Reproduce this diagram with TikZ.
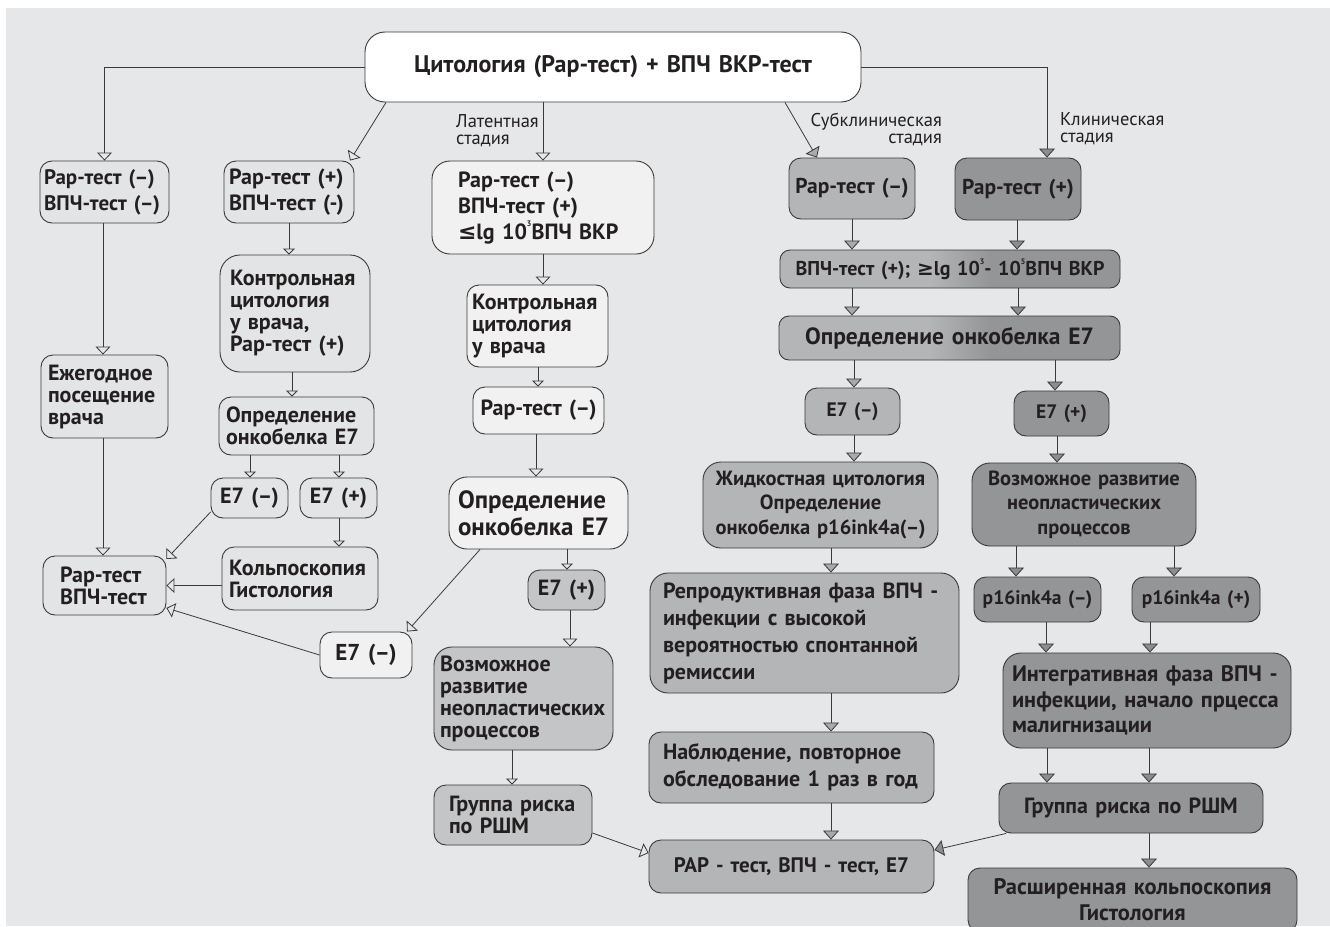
\documentclass[tikz,border=0pt]{standalone}
\usepackage{fontspec}
\setmainfont{PT Sans}
\newfontfamily\dvs{DejaVu Sans}
\usetikzlibrary{arrows.meta,calc}
\definecolor{bgc}{HTML}{E6E7E8}
\definecolor{lb}{HTML}{E3E4E5}
\definecolor{wb}{HTML}{F1F1F1}
\definecolor{mb}{HTML}{C4C5C7}
\definecolor{sb}{HTML}{B4B5B7}
\definecolor{db}{HTML}{949597}
\definecolor{ln}{HTML}{3A3A3A}
\definecolor{tx}{HTML}{231F20}
\definecolor{ahs}{HTML}{A9AAAC}
\definecolor{ahd}{HTML}{8C8D8F}
\pgfdeclarehorizontalshading{gbar}{100bp}{color(0bp)=(sb); color(47bp)=(sb); color(56bp)=(db); color(100bp)=(db)}
\newcommand\bxn[8]{%
 \pgfmathsetmacro\bxw{#4-#2}\pgfmathsetmacro\bxh{#5-#3}%
 \pgfmathsetmacro\bxcx{(#2+#4)/2}\pgfmathsetmacro\bxcy{(#3+#5)/2}%
 \pgfmathsetmacro\bxtw{#4-#2-2*#7}%
 \node[box,#6,minimum width=\bxw pt,minimum height=\bxh pt,text width=\bxtw pt,inner xsep=#7pt] (#1) at (\bxcx,\bxcy) {#8};}
\newcommand\lee{{\dvs\bfseries ≤}}
\newcommand\gee{{\dvs\bfseries ≥}}
\newcommand\sps[1]{\raisebox{0.55em}{\fontsize{8}{8}\selectfont #1}}
\newcommand\fs[2]{\bfseries\fontsize{#1}{#2}\selectfont}
\begin{document}
\begin{tikzpicture}[x=1pt,y=-1pt,
  box/.style={draw=ln,line width=0.9pt,rounded corners=12pt,inner ysep=0pt,align=center,text=tx},
  fl/.style={font=\fs{22}{22}},
  fl2/.style={font=\fs{22}{26}},
  lab/.style={inner sep=0pt,text=tx,font=\fontsize{18.5}{17}\selectfont},
  arr/.style={draw=ln,line width=0.8pt,-{Triangle[open,width=15pt,length=8pt]}},
  arrsm/.style={draw=ln,line width=0.8pt,-{Triangle[open,width=12pt,length=6pt]}},
  arrs/.style={draw=ln,line width=0.8pt,-{Triangle[width=16pt,length=9pt,fill=ahs]}},
  arrd/.style={draw=ln,line width=0.8pt,-{Triangle[width=16pt,length=9pt,fill=ahd]}}]
\useasboundingbox (0,0) rectangle (1330,926);
\clip (0,0) rectangle (1330,926);
\fill[white] (0,0) rectangle (1330,926);
\fill[bgc] (6,8) rectangle (1330,926);

% top
\bxn{top}{365}{32}{861}{102}{fill=white,rounded corners=20pt,font=\fs{24}{26}}{10}{Цитология (Рар-тест) + ВПЧ ВКР-тест}

% left column
\bxn{L1}{40}{161}{169}{223}{fill=lb,font=\fs{21}{26},align=left}{4}{Рар-тест (–)\\ВПЧ-тест (–)}
\bxn{L2}{224}{161}{354}{223}{fill=lb,fl2,align=left}{5}{Рар-тест (+)\\ВПЧ-тест (-)}
\bxn{L3}{220}{255}{370}{372}{fill=lb,fl,align=left,rounded corners=20pt}{10}{Контрольная\\цитология\\у врача,\\Рар-тест (+)}
\bxn{L4}{41}{355}{168}{438}{fill=lb,fl,align=left}{7}{Ежегодное\\посещение\\врача}
\bxn{L5}{219}{397}{374}{455}{fill=lb,fl,align=left}{7}{Определение\\онкобелка Е7}
\bxn{L6}{211}{478}{288}{518}{fill=lb,fl}{4}{Е7 (–)}
\bxn{L7}{300}{478}{377}{518}{fill=lb,fl}{4}{Е7 (+)}
\bxn{L8}{222}{547}{378}{610}{fill=lb,fl,align=left}{7}{Кольпоскопия\\Гистология}
\bxn{L9}{43}{556}{166}{615}{fill=lb,fl,align=left}{17}{Рар-тест\\ВПЧ-тест}
\bxn{L10}{320}{632}{412}{678}{fill=wb,font=\fs{23}{26}}{4}{Е7 (–)}

% middle column
\bxn{M1}{432}{161}{654}{254}{fill=wb,fl2,align=left,rounded corners=18pt}{26}{Рар-тест (–)\\ВПЧ-тест (+)\\\lee lg 10\sps{3}ВПЧ ВКР}
\bxn{M2}{467}{285}{608}{367}{fill=wb,fl,align=left}{5}{Контрольная\\цитология\\у врача}
\bxn{M3}{473}{387}{604}{434}{fill=wb,fl}{4}{Рар-тест (–)}
\bxn{M4}{449}{477}{628}{549}{fill=wb,align=left,rounded corners=18pt,font=\fs{25}{27}}{9}{Определение\\онкобелка Е7}
\bxn{M5}{528}{570}{605}{610}{fill=mb,fl}{4}{Е7 (+)}
\bxn{M6}{434}{647}{613}{750}{fill=mb,fl,align=left,rounded corners=18pt}{6}{Возможное\\развитие\\неопластических\\процессов}
\bxn{M7}{434}{785}{592}{845}{fill=mb,fl,align=left}{15}{Группа риска\\по РШМ}

% subclinical / clinical
\bxn{S1}{789}{158}{915}{219}{fill=sb,font=\fs{21.5}{24}}{4}{Рар-тест (–)}
\bxn{R1}{955}{158}{1081}{220}{fill=db,font=\fs{21.5}{24}}{4}{Рар-тест (+)}
\bxn{G1}{780}{250}{1120}{288}{shade,shading=gbar,font=\fs{20}{24},rounded corners=10pt}{4}{ВПЧ-тест (+); \gee lg 10\sps{3}- 10\sps{5}ВПЧ ВКР}
\bxn{G2}{779}{316}{1120}{360}{shade,shading=gbar,font=\fs{23.5}{24},rounded corners=10pt}{4}{Определение онкобелка Е7}
\bxn{S2}{805}{388}{900}{435}{fill=sb,font=\fs{19.5}{24}}{4}{Е7 (–)}
\bxn{R2}{1014}{391}{1109}{436}{fill=db,font=\fs{19.5}{24}}{4}{Е7 (+)}
\bxn{S3}{703}{462}{938}{548}{fill=sb,font=\fs{20.5}{24.5},rounded corners=18pt}{4}{Жидкостная цитология\\Определение\\онкобелка p16ink4a(–)}
\bxn{R3}{972}{463}{1196}{546}{fill=db,font=\fs{20.5}{24.5},rounded corners=18pt}{4}{Возможное развитие\\неопластических\\процессов}
\bxn{S4}{650}{573}{959}{693}{fill=sb,font=\fs{22}{27},align=left,rounded corners=18pt}{13}{Репродуктивная фаза ВПЧ -\\инфекции с высокой\\вероятностью спонтанной\\ремиссии}
\bxn{R4a}{974}{577}{1101}{622}{fill=db,font=\fs{19.5}{24}}{2}{p16ink4a (–)}
\bxn{R4b}{1132}{577}{1260}{622}{fill=db,font=\fs{19.5}{24}}{2}{p16ink4a (+)}
\bxn{R5}{1003}{653}{1291}{748}{fill=db,font=\fs{22.4}{25.5},align=left,rounded corners=18pt}{9}{Интегративная фаза ВПЧ -\\инфекции, начало прцесса\\малигнизации}
\bxn{S7}{649}{732}{934}{803}{fill=sb,font=\fs{22}{27},align=left}{14}{Наблюдение, повторное\\обследование 1 раз в год}
\bxn{B1}{649}{840}{934}{893}{fill=sb,font=\fs{21}{24}}{4}{РАР - тест, ВПЧ - тест, Е7}
\bxn{R6}{999}{783}{1263}{833}{fill=db,font=\fs{22}{24}}{4}{Группа риска по РШМ}
\bxn{R7}{968}{868}{1297}{932}{fill=db,font=\fs{22.5}{26}}{4}{Расширенная кольпоскопия\\Гистология}

% stage labels
\node[lab,anchor=west,align=left] (lat) at (456,131) {Латентная\\стадия};
\node[lab,anchor=east,align=right] (sub) at (942,129) {Субклиническая\\стадия};
\node[lab,anchor=west,align=left] (kl) at (1060,129) {Клиническая\\стадия};

% connectors: top
\draw[arr] (top.west) -| (L1.north);
\draw[arr] (top.south -| 386,0) -- (L2.north -| 350,0);
\draw[arr] (M1.north |- top.south) -- (M1.north);
\draw[arrs] (top.south -| 785,0) -- (S1.north -| 817,0);
\draw[arrd] (top.east) -| (R1.north -| 1047,0);

% left
\draw[arrsm] (L2.south -| 289,0) -- (L3.north -| 289,0);
\draw[arrsm] (L3.south -| 292,0) -- (L5.north -| 292,0);
\draw[arrsm] (L5.south -| 250,0) -- (L6.north -| 250,0);
\draw[arrsm] (L5.south -| 339,0) -- (L7.north -| 339,0);
\draw[arrsm] (L7.south -| 339,0) -- (L8.north -| 339,0);
\draw[arr] (L1.south -| 103,0) -- (L4.north -| 103,0);
\draw[arr] (L4.south -| 103,0) -- (L9.north -| 103,0);
\draw[arr] (L6.west |- 0,512) -- (L9.east |- 0,559);
\draw[arr] (L8.west |- L9.east) -- (L9.east);
\draw[arr] (L10.west) -- (L9.east |- 0,608);
\draw[arr] (M4.south -| 480,0) -- (L10.north -| 407,0);

% middle
\draw[arr] (M1.south -| 543,0) -- (M2.north -| 543,0);
\draw[arrsm] (M2.south -| 538,0) -- (M3.north -| 538,0);
\draw[arr] (M3.south -| 536,0) -- (M4.north -| 536,0);
\draw[arrsm] (M4.south -| 567,0) -- (M5.north -| 567,0);
\draw[arr] (M5.south -| 570,0) -- (M6.north -| 570,0);
\draw[arrsm] (M6.south -| 512,0) -- (M7.north -| 512,0);
\draw[arr] (M7.east |- 0,833) -- (B1.west |- 0,853);

% subclinical / clinical
\draw[arrs] (S1.south -| 852,0) -- (G1.north -| 852,0);
\draw[arrd] (R1.south -| 1017,0) -- (G1.north -| 1017,0);
\draw[arrs] (G1.south -| 852,0) -- (G2.north -| 852,0);
\draw[arrd] (G1.south -| 1018,0) -- (G2.north -| 1018,0);
\draw[arrs] (G2.south -| 854,0) -- (S2.north -| 854,0);
\draw[arrd] (G2.south -| 1055,0) -- (R2.north -| 1055,0);
\draw[arrs] (S2.south -| 854,0) -- (S3.north -| 854,0);
\draw[arrd] (R2.south -| 1057,0) -- (R3.north -| 1057,0);
\draw[arrs] (S3.south -| 831,0) -- (S4.north -| 831,0);
\draw[arrs] (S4.south -| 831,0) -- (S7.north -| 831,0);
\draw[arrs] (S7.south -| 831,0) -- (B1.north -| 831,0);
\draw[arrd] (R3.south -| 1016,0) -- (R4a.north -| 1016,0);
\draw[arrd] (R3.south -| 1174,0) -- (R4b.north -| 1174,0);
\draw[arrd] (R4a.south -| 1046,0) -- (R5.north -| 1046,0);
\draw[arrd] (R4b.south -| 1150,0) -- (R5.north -| 1150,0);
\draw[arrd] (R5.south -| 1047,0) -- (R6.north -| 1047,0);
\draw[arrd] (R5.south -| 1149,0) -- (R6.north -| 1149,0);
\draw[arrd] (R6.south -| 1149,0) -- (R7.north -| 1149,0);
\draw[arrd] (R6.south -| 1006,0) -- (B1.east |- 0,850);
\end{tikzpicture}
\end{document}
